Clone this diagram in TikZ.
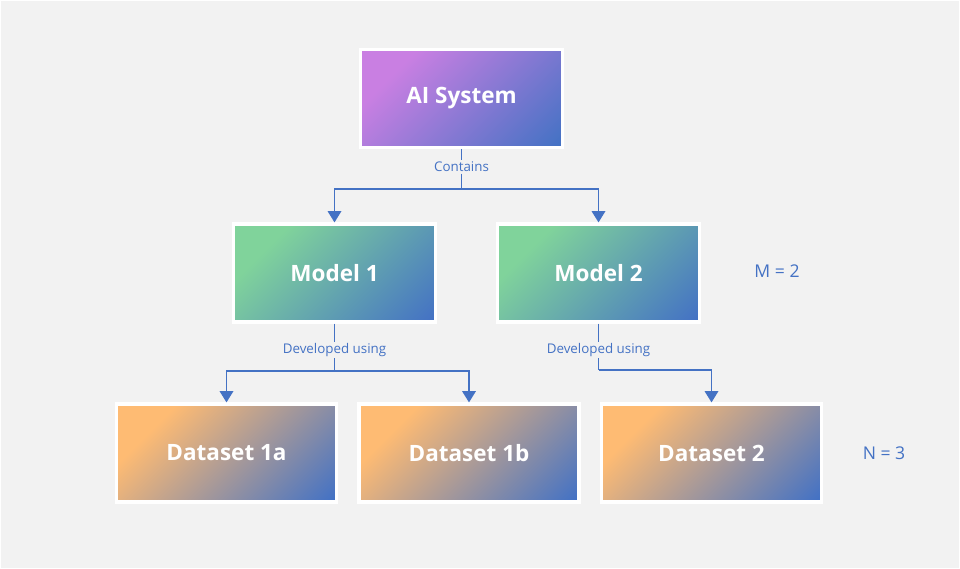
\documentclass[tikz,border=0pt]{standalone}
\usepackage{fontspec}
\setmainfont{Open Sans}
\usetikzlibrary{arrows.meta}
\definecolor{bgcol}{HTML}{F2F2F2}
\definecolor{linecol}{HTML}{4472C4}
\definecolor{aicol}{HTML}{C97FE2}
\definecolor{modelcol}{HTML}{80D39B}
\definecolor{datacol}{HTML}{FEBB73}
\pgfdeclareverticalshading{aishade}{100bp}{color(0bp)=(linecol); color(16bp)=(linecol); color(72bp)=(aicol); color(100bp)=(aicol)}
\pgfdeclareverticalshading{modelshade}{100bp}{color(0bp)=(linecol); color(16bp)=(linecol); color(72bp)=(modelcol); color(100bp)=(modelcol)}
\pgfdeclareverticalshading{datashade}{100bp}{color(0bp)=(linecol); color(16bp)=(linecol); color(72bp)=(datacol); color(100bp)=(datacol)}
\begin{document}
\begin{tikzpicture}[x=0.025cm, y=-0.025cm,
  box/.style={draw=white, line width=2.2pt, minimum height=2.45cm,
    text=white, font=\fontsize{16}{19}\selectfont\bfseries, inner sep=0pt},
  aibox/.style={box, shading=aishade, shading angle=45, minimum width=5.07cm},
  modelbox/.style={box, shading=modelshade, shading angle=45, minimum width=5.07cm},
  databox/.style={box, shading=datashade, shading angle=45, minimum width=5.5cm},
  lab/.style={fill=bgcol, text=linecol, font=\fontsize{9.5}{11}\selectfont, inner sep=1pt},
  count/.style={text=linecol, font=\fontsize{12.5}{15}\selectfont},
  link/.style={draw=linecol, line width=1.4pt},
  >={Triangle[width=9.5pt,length=8pt]}]
\path[fill=bgcol, draw=white, line width=0.7pt] (0.5,0.5) rectangle (959.5,568.5);

\node[aibox] (ai) at (461.5,98.5) {AI System};
\node[modelbox] (m1) at (334.5,273) {Model 1};
\node[modelbox] (m2) at (598.5,273) {Model 2};
\node[databox] (d1a) at (226.5,453) {Dataset 1a};
\node[databox] (d1b) at (469,453) {Dataset 1b};
\node[databox] (d2) at (711.5,453) {Dataset 2};

\node[lab] (contains) at (461.5,167) {Contains};
\node[lab] (dev1) at (334.5,350) {Developed using};
\node[lab] (dev2) at (598.5,350) {Developed using};

\coordinate (j0) at (461.5,189);
\coordinate (j1) at (334.5,371);
\coordinate (j2) at (598.5,370);

\path[link] (ai) -- (contains);
\path[link] (contains) -- (j0);
\path[link,->] (j0) -| (m1);
\path[link,->] (j0) -| (m2);
\path[link] (m1) -- (dev1);
\path[link] (dev1) -- (j1);
\path[link,->] (j1) -| (d1a);
\path[link,->] (j1) -| (d1b);
\path[link] (m2) -- (dev2);
\path[link] (dev2) -- (j2);
\path[link,->] (j2) -| (d2);

\node[count] (mcount) at (777,271) {M = 2};
\node[count] (ncount) at (884,453) {N = 3};
\end{tikzpicture}
\end{document}
